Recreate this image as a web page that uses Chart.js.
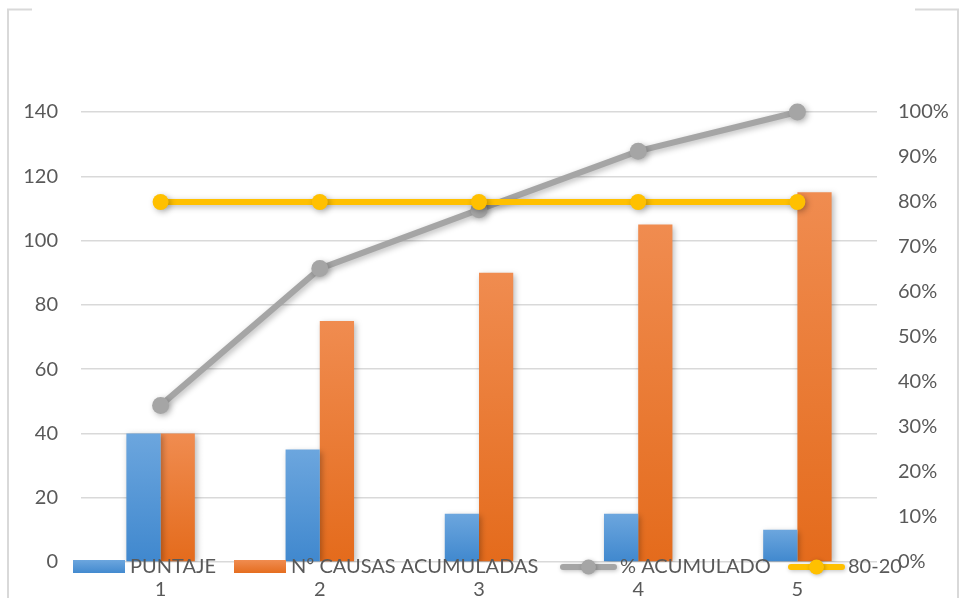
<!DOCTYPE html>
<html>
<head>
<meta charset="utf-8">
<script src="https://cdn.jsdelivr.net/npm/chart.js@4/dist/chart.umd.min.js"></script>
<style>
html,body{margin:0;padding:0;background:#fff;}
#wrap{width:961px;height:598px;position:relative;}
</style>
</head>
<body>
<div id="wrap"><canvas id="c" width="961" height="598"></canvas></div>
<script>
const categories = ['1', '2', '3', '4', '5'];
const puntaje = [40, 35, 15, 15, 10];
const causasAcumuladas = [40, 75, 90, 105, 115];
const porcentajeAcumulado = [34.8, 65.2, 78.3, 91.3, 100];
const linea8020 = [80, 80, 80, 80, 80];
const seriesLabels = ['PUNTAJE', 'Nº CAUSAS ACUMULADAS', '% ACUMULADO', '80-20'];

const FONT = 'Lato, "Open Sans", sans-serif';
const TXT = '#595959';

function barGradient(top, bottom) {
  return function (ctx) {
    const chart = ctx.chart;
    const y = chart.scales && chart.scales.y;
    if (!y || ctx.type !== 'data') return top;
    const v = ctx.parsed ? ctx.parsed.y : ctx.raw;
    const yTop = y.getPixelForValue(v);
    const yBot = y.getPixelForValue(0);
    if (!isFinite(yTop) || !isFinite(yBot) || yTop === yBot) return top;
    const g = chart.ctx.createLinearGradient(0, yTop, 0, yBot);
    g.addColorStop(0, top);
    g.addColorStop(1, bottom);
    return g;
  };
}

const shadowPlugin = {
  id: 'shadow',
  beforeDatasetDraw(chart, args) {
    const c = chart.ctx;
    c.save();
    c.shadowColor = 'rgba(0,0,0,0.28)';
    c.shadowBlur = 6;
    c.shadowOffsetX = 2;
    c.shadowOffsetY = 2;
  },
  afterDatasetDraw(chart) {
    chart.ctx.restore();
  }
};

const framePlugin = {
  id: 'frame',
  beforeDraw(chart) {
    const c = chart.ctx;
    c.save();
    c.fillStyle = '#fff';
    c.fillRect(0, 0, chart.width, chart.height);
    c.strokeStyle = '#D9D9D9';
    c.lineWidth = 2;
    c.beginPath();
    c.moveTo(8, 598); c.lineTo(8, 9.5); c.lineTo(32, 9.5);
    c.moveTo(915, 9.5); c.lineTo(958, 9.5); c.lineTo(958, 598);
    c.stroke();
    c.restore();
  }
};

const legendPlugin = {
  id: 'customLegend',
  afterDraw(chart) {
    const c = chart.ctx;
    const ds = chart.data.datasets;
    const cy = 567;
    const items = [
      { type: 'box', x: 73, w: 52, tx: 130, top: '#6CA6DE', bot: '#4088CE', label: ds[0].label },
      { type: 'box', x: 234, w: 52, tx: 291, top: '#F08C50', bot: '#E46B1C', label: ds[1].label },
      { type: 'line', x: 560, w: 57, tx: 620, color: '#A5A5A5', label: ds[2].label },
      { type: 'line', x: 788, w: 57, tx: 848, color: '#FFC000', label: ds[3].label }
    ];
    c.save();
    items.forEach(it => {
      c.save();
      if (it.type === 'box') {
        const g = c.createLinearGradient(0, cy - 7, 0, cy + 7);
        g.addColorStop(0, it.top);
        g.addColorStop(1, it.bot);
        c.fillStyle = g;
        c.fillRect(it.x, cy - 7, it.w, 13);
      } else {
        c.shadowColor = 'rgba(0,0,0,0.25)';
        c.shadowBlur = 4;
        c.shadowOffsetX = 1;
        c.shadowOffsetY = 1;
        c.strokeStyle = it.color;
        c.lineWidth = 6;
        c.lineCap = 'round';
        c.beginPath();
        c.moveTo(it.x + 3, cy); c.lineTo(it.x + it.w - 3, cy);
        c.stroke();
        c.fillStyle = it.color;
        c.beginPath();
        c.arc(it.x + it.w / 2, cy, 7.5, 0, Math.PI * 2);
        c.fill();
      }
      c.restore();
      c.fillStyle = TXT;
      c.font = '20px ' + FONT;
      c.textBaseline = 'middle';
      c.textAlign = 'left';
      c.fillText(it.label, it.tx, cy);
    });
    c.restore();
  }
};

new Chart(document.getElementById('c'), {
  data: {
    labels: categories,
    datasets: [
      {
        type: 'bar', label: seriesLabels[0], data: puntaje, yAxisID: 'y', order: 2,
        backgroundColor: barGradient('#6CA6DE', '#4088CE'),
        categoryPercentage: 0.43, barPercentage: 1, borderWidth: 0
      },
      {
        type: 'bar', label: seriesLabels[1], data: causasAcumuladas, yAxisID: 'y', order: 2,
        backgroundColor: barGradient('#F08C50', '#E46B1C'),
        categoryPercentage: 0.43, barPercentage: 1, borderWidth: 0
      },
      {
        type: 'line', label: seriesLabels[2], data: porcentajeAcumulado, yAxisID: 'y1', order: 1,
        borderColor: '#A5A5A5', backgroundColor: '#A5A5A5', borderWidth: 6,
        pointRadius: 8.5, pointBackgroundColor: '#A5A5A5', pointBorderWidth: 0,
        tension: 0, clip: false, borderCapStyle: 'round'
      },
      {
        type: 'line', label: seriesLabels[3], data: linea8020, yAxisID: 'y1', order: 0,
        borderColor: '#FFC000', backgroundColor: '#FFC000', borderWidth: 6,
        pointRadius: 8, pointBackgroundColor: '#FFC000', pointBorderWidth: 0,
        tension: 0, clip: false, borderCapStyle: 'round'
      }
    ]
  },
  options: {
    responsive: false,
    animation: false,
    layout: { padding: { top: 112, left: 0, right: 0, bottom: 0 } },
    plugins: {
      legend: { display: false },
      tooltip: { enabled: false },
      title: { display: false }
    },
    scales: {
      x: {
        grid: { display: false, drawTicks: false },
        border: { display: false },
        ticks: { color: TXT, font: { family: FONT, size: 20 }, padding: 16, maxRotation: 0 },
        afterFit(s) { s.height = 36; }
      },
      y: {
        position: 'left',
        min: 0, max: 140,
        grid: { color: '#D9D9D9', lineWidth: 1.5, drawTicks: false },
        border: { display: false },
        ticks: { stepSize: 20, color: TXT, font: { family: FONT, size: 20 }, padding: 23 },
        afterFit(s) { s.width = 81; }
      },
      y1: {
        position: 'right',
        min: 0, max: 100,
        grid: { display: false, drawTicks: false },
        border: { display: false },
        ticks: {
          stepSize: 10, color: TXT, font: { family: FONT, size: 20 }, padding: 21,
          callback: v => v + '%'
        },
        afterFit(s) { s.width = 84; }
      }
    }
  },
  plugins: [framePlugin, shadowPlugin, legendPlugin]
});
</script>
</body>
</html>
